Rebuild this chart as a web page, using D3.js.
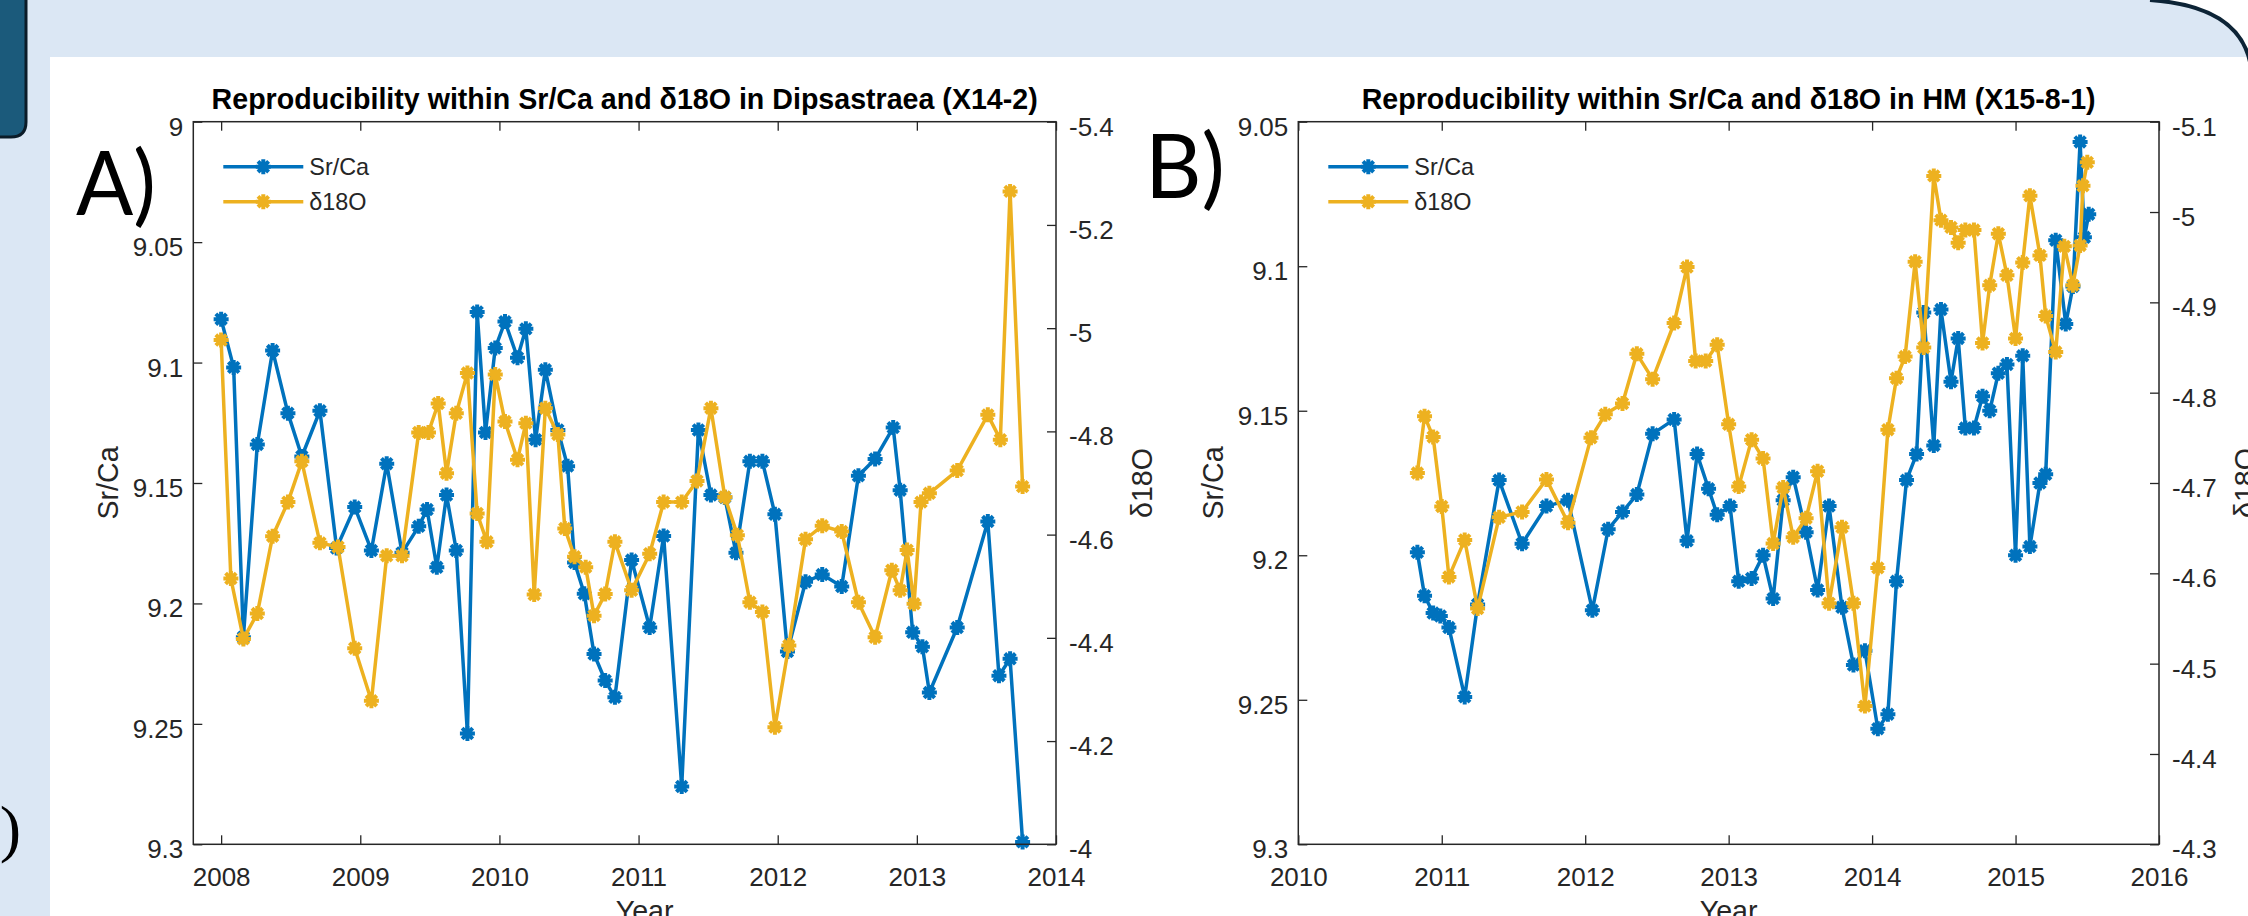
<!DOCTYPE html>
<html>
<head>
<meta charset="utf-8">
<script src="https://cdn.jsdelivr.net/npm/d3@7"></script>
<style>
  body { margin: 0; background: #dbe7f4; }
  svg { display: block; }
  .tick text { font-family: 'Liberation Sans', Arial, sans-serif; fill: #262626; }
</style>
</head>
<body>
<div class="graph"></div>
<script>
// panel A : Dipsastraea (X14-2)
var aSrYears = [2008.00, 2008.09, 2008.16, 2008.26, 2008.37, 2008.48, 2008.58, 2008.71, 2008.83, 2008.96,
  2009.08, 2009.19, 2009.30, 2009.42, 2009.48, 2009.55, 2009.62, 2009.69, 2009.77, 2009.84, 2009.90, 2009.97,
  2010.04, 2010.13, 2010.19, 2010.26, 2010.33, 2010.42, 2010.49, 2010.54, 2010.61, 2010.68, 2010.76, 2010.83, 2010.95,
  2011.08, 2011.18, 2011.31, 2011.43, 2011.52, 2011.62, 2011.70, 2011.80, 2011.89, 2011.98,
  2012.07, 2012.20, 2012.32, 2012.46, 2012.58, 2012.70, 2012.83, 2012.88, 2012.97,
  2013.04, 2013.09, 2013.29, 2013.51, 2013.59, 2013.67, 2013.76];
var aSrCa = [9.082, 9.102, 9.214, 9.134, 9.095, 9.121, 9.139, 9.120, 9.177, 9.160,
  9.178, 9.142, 9.179, 9.168, 9.161, 9.185, 9.155, 9.178, 9.254, 9.079, 9.129, 9.094,
  9.083, 9.098, 9.086, 9.132, 9.103, 9.128, 9.143, 9.183, 9.196, 9.221, 9.232, 9.239, 9.182,
  9.210, 9.172, 9.276, 9.128, 9.155, 9.156, 9.179, 9.141, 9.141, 9.163,
  9.220, 9.191, 9.188, 9.193, 9.147, 9.140, 9.127, 9.153, 9.212,
  9.218, 9.237, 9.210, 9.166, 9.230, 9.223, 9.299];
var aOYears = [2008.00, 2008.07, 2008.16, 2008.26, 2008.37, 2008.48, 2008.58, 2008.71, 2008.84, 2008.96,
  2009.08, 2009.19, 2009.30, 2009.42, 2009.49, 2009.56, 2009.62, 2009.69, 2009.77, 2009.84, 2009.91, 2009.97,
  2010.04, 2010.13, 2010.19, 2010.25, 2010.33, 2010.42, 2010.47, 2010.54, 2010.62, 2010.68, 2010.76, 2010.83, 2010.95,
  2011.08, 2011.18, 2011.31, 2011.42, 2011.52, 2011.62, 2011.71, 2011.80, 2011.89, 2011.98,
  2012.08, 2012.20, 2012.32, 2012.46, 2012.58, 2012.70, 2012.82, 2012.88, 2012.93, 2012.98,
  2013.03, 2013.09, 2013.29, 2013.51, 2013.60, 2013.67, 2013.76];
var aD18O = [-4.977, -4.515, -4.398, -4.447, -4.597, -4.663, -4.742, -4.584, -4.576, -4.380,
  -4.278, -4.559, -4.559, -4.798, -4.798, -4.854, -4.719, -4.835, -4.913, -4.641, -4.586, -4.910,
  -4.819, -4.745, -4.816, -4.484, -4.845, -4.794, -4.612, -4.557, -4.537, -4.443, -4.485, -4.586, -4.492,
  -4.563, -4.663, -4.663, -4.704, -4.845, -4.673, -4.599, -4.469, -4.450, -4.227,
  -4.385, -4.591, -4.617, -4.606, -4.469, -4.401, -4.531, -4.492, -4.570, -4.466,
  -4.663, -4.680, -4.724, -4.832, -4.784, -5.265, -4.693];
var aXTicks = [2008, 2009, 2010, 2011, 2012, 2013, 2014];
var aLeftTicks = [9, 9.05, 9.1, 9.15, 9.2, 9.25, 9.3];
var aRightTicks = [-5.4, -5.2, -5, -4.8, -4.6, -4.4, -4.2, -4];

// panel B : HM (X15-8-1)
var bSrYears = [2010.83, 2010.88, 2010.94, 2010.99,
  2011.05, 2011.16, 2011.25, 2011.40, 2011.56, 2011.73, 2011.88,
  2012.05, 2012.16, 2012.26, 2012.36, 2012.47, 2012.62, 2012.71, 2012.78, 2012.86, 2012.92,
  2013.01, 2013.07, 2013.16, 2013.24, 2013.31, 2013.38, 2013.45, 2013.54, 2013.62, 2013.70, 2013.79, 2013.87, 2013.95,
  2014.04, 2014.11, 2014.17, 2014.24, 2014.31, 2014.36, 2014.43, 2014.48, 2014.55, 2014.60, 2014.65, 2014.71, 2014.77, 2014.82, 2014.88, 2014.94,
  2015.00, 2015.05, 2015.10, 2015.17, 2015.21, 2015.28, 2015.35, 2015.40, 2015.45, 2015.48, 2015.51];
var bSrCa = [9.199, 9.214, 9.220, 9.221,
  9.225, 9.249, 9.217, 9.174, 9.196, 9.183, 9.181,
  9.219, 9.191, 9.185, 9.179, 9.158, 9.153, 9.195, 9.165, 9.177, 9.186,
  9.183, 9.209, 9.208, 9.200, 9.215, 9.181, 9.173, 9.192, 9.212, 9.183, 9.218, 9.238, 9.233,
  9.260, 9.255, 9.209, 9.174, 9.165, 9.116, 9.162, 9.115, 9.140, 9.125, 9.156, 9.156, 9.145, 9.150, 9.137, 9.134,
  9.200, 9.131, 9.197, 9.175, 9.172, 9.091, 9.120, 9.107, 9.057, 9.090, 9.082];
var bOYears = [2010.83, 2010.88, 2010.94,
  2011.00, 2011.05, 2011.16, 2011.25, 2011.40, 2011.56, 2011.73, 2011.88,
  2012.04, 2012.14, 2012.26, 2012.36, 2012.47, 2012.62, 2012.71, 2012.77, 2012.84, 2012.92,
  2013.00, 2013.07, 2013.16, 2013.24, 2013.31, 2013.38, 2013.45, 2013.54, 2013.62, 2013.70, 2013.79, 2013.87, 2013.95,
  2014.04, 2014.11, 2014.17, 2014.23, 2014.30, 2014.36, 2014.43, 2014.48, 2014.55, 2014.60, 2014.65, 2014.71, 2014.77, 2014.82, 2014.88, 2014.94,
  2015.00, 2015.05, 2015.10, 2015.17, 2015.21, 2015.28, 2015.34, 2015.40, 2015.45, 2015.47, 2015.50];
var bD18O = [-4.711, -4.774, -4.751,
  -4.674, -4.596, -4.637, -4.561, -4.662, -4.668, -4.704, -4.656,
  -4.750, -4.776, -4.788, -4.843, -4.815, -4.877, -4.939, -4.835, -4.835, -4.853,
  -4.765, -4.696, -4.748, -4.727, -4.633, -4.695, -4.640, -4.661, -4.713, -4.567, -4.651, -4.567, -4.453,
  -4.606, -4.759, -4.816, -4.840, -4.945, -4.850, -5.040, -4.991, -4.983, -4.966, -4.980, -4.980, -4.855, -4.919, -4.976, -4.930,
  -4.860, -4.944, -5.018, -4.952, -4.885, -4.845, -4.962, -4.919, -4.963, -5.029, -5.055];
var bXTicks = [2010, 2011, 2012, 2013, 2014, 2015, 2016];
var bLeftTicks = [9.05, 9.1, 9.15, 9.2, 9.25, 9.3];
var bRightTicks = [-5.1, -5, -4.9, -4.8, -4.7, -4.6, -4.5, -4.4, -4.3];

var seriesNames = ['Sr/Ca', 'δ18O'];

var width = 2248,
    height = 916

var blue = '#0072BD',
    gold = '#EDB120',
    axisColor = '#262626',
    font = "'Liberation Sans', Arial, sans-serif"

var svg = d3.select('.graph')
  .append('svg')
  .attr('width', width)
  .attr('height', height)

// slide background
svg.append('rect').attr('width', width).attr('height', height).attr('fill', '#dbe7f4')
svg.append('rect').attr('x', 50).attr('y', 57).attr('width', width - 50).attr('height', height - 57).attr('fill', '#ffffff')
svg.append('path')
  .attr('d', 'M-5,-5 H26 V122 Q26,137 11,137 H-5 Z')
  .attr('fill', '#1b5a7b').attr('stroke', '#0b1c28').attr('stroke-width', 3)
svg.append('path')
  .attr('d', 'M2150,0 Q2238,6 2250,62 L2250,0 Z')
  .attr('fill', '#ffffff')
svg.append('path')
  .attr('d', 'M2150,0 Q2238,6 2250,62')
  .attr('fill', 'none').attr('stroke', '#0d2436').attr('stroke-width', 4)
svg.append('text')
  .text('1)')
  .attr('x', 21).attr('y', 850)
  .attr('text-anchor', 'end')
  .style('font-family', "'Liberation Serif', serif")
  .style('font-size', '64px')
  .style('fill', '#000')

// asterisk marker like matlab '*'
function star(r) {
  var k = r * 0.7071;
  return 'M' + (-r) + ',0L' + r + ',0M0,' + (-r) + 'L0,' + r +
    'M' + (-k) + ',' + (-k) + 'L' + k + ',' + k + 'M' + (-k) + ',' + k + 'L' + k + ',' + (-k);
}

function drawPanel(p) {
  var g = svg.append('g')

  var xScale = d3.scaleLinear().domain(p.xDomain).range([p.left, p.right])
  var yLeft = d3.scaleLinear().domain(p.leftDomain).range([p.top, p.bottom])
  var yRight = d3.scaleLinear().domain(p.rightDomain).range([p.top, p.bottom])

  g.append('rect')
    .attr('x', p.left).attr('y', p.top)
    .attr('width', p.right - p.left).attr('height', p.bottom - p.top)
    .attr('fill', '#fff')

  var lineFn = (ys) => d3.line().x((d) => xScale(d[0])).y((d) => ys(d[1]))

  var series = [
    { pts: d3.zip(p.srYears, p.srCa), scale: yLeft, color: blue },
    { pts: d3.zip(p.oYears, p.d18O), scale: yRight, color: gold }
  ]

  series.forEach((s) => {
    g.append('path')
      .datum(s.pts)
      .attr('d', lineFn(s.scale))
      .attr('fill', 'none')
      .attr('stroke', s.color)
      .attr('stroke-width', 3.5)
      .attr('stroke-linejoin', 'round')
    g.selectAll(null)
      .data(s.pts)
      .enter()
      .append('path')
      .attr('d', star(7.5))
      .attr('transform', (d) => 'translate(' + xScale(d[0]) + ',' + s.scale(d[1]) + ')')
      .attr('stroke', s.color)
      .attr('stroke-width', 4)
      .attr('fill', 'none')
  })

  // axes, ticks pointing inward
  var fmt = (d) => String(+d.toFixed(2))
  var xAxis = g.append('g')
    .attr('transform', 'translate(0,' + p.bottom + ')')
    .call(d3.axisBottom(xScale).tickValues(p.xTicks).tickSizeInner(-9).tickSizeOuter(0).tickPadding(23).tickFormat(fmt))
  g.append('g')
    .attr('transform', 'translate(0,' + p.top + ')')
    .call(d3.axisTop(xScale).tickValues(p.xTicks).tickSizeInner(-9).tickSizeOuter(0).tickFormat(''))
  var yAxisL = g.append('g')
    .attr('transform', 'translate(' + p.left + ',0)')
    .call(d3.axisLeft(yLeft).tickValues(p.leftTicks).tickSizeInner(-9).tickSizeOuter(0).tickPadding(10).tickFormat(fmt))
  var yAxisR = g.append('g')
    .attr('transform', 'translate(' + p.right + ',0)')
    .call(d3.axisRight(yRight).tickValues(p.rightTicks).tickSizeInner(-9).tickSizeOuter(0).tickPadding(13).tickFormat(fmt))

  g.selectAll('.domain').remove()
  g.selectAll('.tick line').attr('stroke', axisColor).attr('stroke-width', 1.3)
  g.selectAll('.tick text').style('font-size', '26px').style('font-family', font)
  yAxisL.selectAll('.tick text').attr('dy', '0.52em')
  yAxisR.selectAll('.tick text').attr('dy', '0.52em')
  xAxis.selectAll('.tick text').attr('dy', '0.71em')

  g.append('rect')
    .attr('x', p.left).attr('y', p.top)
    .attr('width', p.right - p.left).attr('height', p.bottom - p.top)
    .attr('fill', 'none').attr('stroke', axisColor).attr('stroke-width', 1.5)

  var midX = (p.left + p.right) / 2,
      midY = (p.top + p.bottom) / 2

  g.append('text')
    .text(p.title)
    .attr('x', midX).attr('y', p.top - 13)
    .attr('text-anchor', 'middle')
    .style('font-family', font).style('font-weight', 'bold').style('font-size', '28.6px')
    .style('fill', '#000')

  g.append('text')
    .text('Year')
    .attr('x', midX + p.xLabelShift).attr('y', p.bottom + 77)
    .attr('text-anchor', 'middle')
    .style('font-family', font).style('font-size', '28.6px').style('fill', axisColor)

  g.append('text')
    .text('Sr/Ca')
    .attr('transform', 'translate(' + (p.left - 75) + ',' + midY + ') rotate(-90)')
    .attr('text-anchor', 'middle')
    .style('font-family', font).style('font-size', '28.6px').style('fill', axisColor)

  g.append('text')
    .text('δ18O')
    .attr('transform', 'translate(' + (p.right + 96) + ',' + midY + ') rotate(-90)')
    .attr('text-anchor', 'middle')
    .style('font-family', font).style('font-size', '28.6px').style('fill', axisColor)

  // legend, no box
  series.forEach((s, i) => {
    var ly = p.top + 45 + i * 35
    g.append('line')
      .attr('x1', p.left + 30).attr('x2', p.left + 110)
      .attr('y1', ly).attr('y2', ly)
      .attr('stroke', s.color).attr('stroke-width', 3.5)
    g.append('path')
      .attr('d', star(7.5))
      .attr('transform', 'translate(' + (p.left + 70) + ',' + ly + ')')
      .attr('stroke', s.color).attr('stroke-width', 4)
    g.append('text')
      .text(seriesNames[i])
      .attr('x', p.left + 116).attr('y', ly)
      .attr('dy', '0.36em')
      .style('font-family', font).style('font-size', '23.4px').style('fill', axisColor)
  })

  // panel letter
  svg.append('text')
    .text(p.letter)
    .attr('x', p.letterX).attr('y', p.letterY)
    .attr('textLength', 80)
    .attr('lengthAdjust', 'spacingAndGlyphs')
    .style('font-family', "Lato, 'Open Sans', sans-serif")
    .style('font-size', '90px')
    .style('fill', '#000')
}

drawPanel({
  title: 'Reproducibility within Sr/Ca and δ18O in Dipsastraea (X14-2)',
  letter: 'A)', letterX: 76, letterY: 215, xLabelShift: 20,
  left: 193.3, right: 1056, top: 121.7, bottom: 844.3,
  xDomain: [2007.8, 2014], leftDomain: [9, 9.3], rightDomain: [-5.4, -4],
  xTicks: aXTicks, leftTicks: aLeftTicks, rightTicks: aRightTicks,
  srYears: aSrYears, srCa: aSrCa, oYears: aOYears, d18O: aD18O
})

drawPanel({
  title: 'Reproducibility within Sr/Ca and δ18O in HM (X15-8-1)',
  letter: 'B)', letterX: 1145, letterY: 198, xLabelShift: 0,
  left: 1298.3, right: 2159, top: 121.7, bottom: 844.3,
  xDomain: [2010, 2016], leftDomain: [9.05, 9.3], rightDomain: [-5.1, -4.3],
  xTicks: bXTicks, leftTicks: bLeftTicks, rightTicks: bRightTicks,
  srYears: bSrYears, srCa: bSrCa, oYears: bOYears, d18O: bD18O
})
</script>
</body>
</html>
